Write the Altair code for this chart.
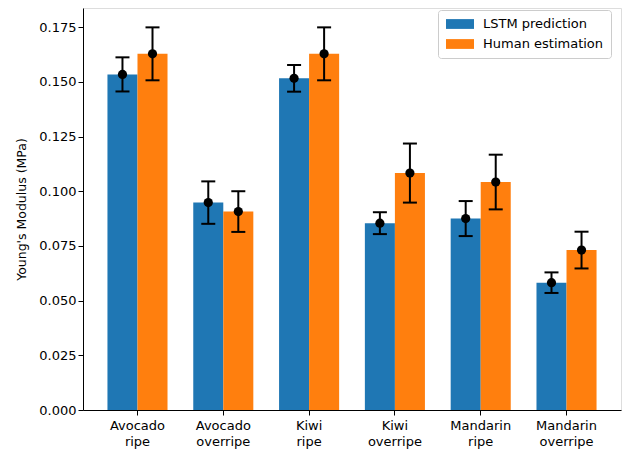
import altair as alt
import pandas as pd

categories = ["Avocado ripe", "Avocado overripe", "Kiwi ripe", "Kiwi overripe", "Mandarin ripe", "Mandarin overripe"]
series = ["LSTM prediction", "Human estimation"]
lstm_vals = [0.1534, 0.0948, 0.1516, 0.0854, 0.0875, 0.0582]
lstm_err = [0.0078, 0.0097, 0.0061, 0.0050, 0.0080, 0.0047]
human_vals = [0.1628, 0.0907, 0.1628, 0.1083, 0.1042, 0.0731]
human_err = [0.0121, 0.0093, 0.0121, 0.0135, 0.0125, 0.0084]
y_ticks = [0.0, 0.025, 0.05, 0.075, 0.1, 0.125, 0.15, 0.175]
colors = ["#1f77b4", "#ff7f0e"]

rows = []
for c, v, e in zip(categories, lstm_vals, lstm_err):
    rows.append({"cat": c, "series": series[0], "val": v, "lo": v - e, "hi": v + e})
for c, v, e in zip(categories, human_vals, human_err):
    rows.append({"cat": c, "series": series[1], "val": v, "lo": v - e, "hi": v + e})
df = pd.DataFrame(rows)

font = "DejaVu Sans"

x = alt.X("cat:N", sort=categories, title=None,
          scale=alt.Scale(paddingInner=0.3, paddingOuter=0.285),
          axis=alt.Axis(labelAngle=0, labelExpr="split(datum.label, ' ')",
                        labelFontSize=13, labelColor="black", labelFont=font,
                        tickColor="black", tickSize=5, domainColor="black",
                        labelPadding=4, labelLineHeight=16))
xo = alt.XOffset("series:N", sort=series, scale=alt.Scale(paddingInner=0, paddingOuter=0))
yscale = alt.Scale(domain=[0, 0.18375], nice=False, zero=True)

bars = alt.Chart(df).mark_bar(opacity=1, strokeWidth=0).encode(
    x=x, xOffset=xo,
    y=alt.Y("val:Q", scale=yscale, title="Young's Modulus (MPa)",
            axis=alt.Axis(values=y_ticks, format=".3f", grid=False,
                          labelFontSize=13, labelColor="black", labelFont=font,
                          tickColor="black", tickSize=5, domainColor="black",
                          titleFontSize=12.5, titleFontWeight="normal", titleColor="black",
                          titleFont=font, titlePadding=10)),
    color=alt.Color("series:N", sort=series,
                    scale=alt.Scale(domain=series, range=colors),
                    legend=alt.Legend(title=None, orient="none", legendX=355, legendY=2,
                                      fillColor="white", strokeColor="#cccccc", cornerRadius=3,
                                      padding=7, labelFontSize=13, labelFont=font, labelColor="black",
                                      symbolType="M-2,-0.7H2V0.7H-2Z", symbolSize=196,
                                      symbolStrokeWidth=0, symbolOpacity=1, labelOffset=16,
                                      rowPadding=6, symbolOffset=8)),
)

rules = alt.Chart(df).mark_rule(color="black", strokeWidth=2).encode(
    x=x, xOffset=xo, y=alt.Y("lo:Q", scale=yscale), y2="hi:Q")

caps_lo = alt.Chart(df).mark_tick(color="black", size=14, thickness=2, opacity=1).encode(
    x=x, xOffset=xo, y=alt.Y("lo:Q", scale=yscale))
caps_hi = alt.Chart(df).mark_tick(color="black", size=14, thickness=2, opacity=1).encode(
    x=x, xOffset=xo, y=alt.Y("hi:Q", scale=yscale))

pts = alt.Chart(df).mark_circle(color="black", size=85, opacity=1).encode(
    x=x, xOffset=xo, y=alt.Y("val:Q", scale=yscale))

chart = alt.layer(bars, rules, caps_lo, caps_hi, pts).properties(
    width=538, height=402,
    autosize=alt.AutoSizeParams(type="none"),
    padding={"left": 75, "top": 0, "right": 2, "bottom": 40},
).configure_view(stroke="black", strokeWidth=1).configure(background="white")

chart.save("out.html", embed_options={"renderer": "svg", "actions": False})
